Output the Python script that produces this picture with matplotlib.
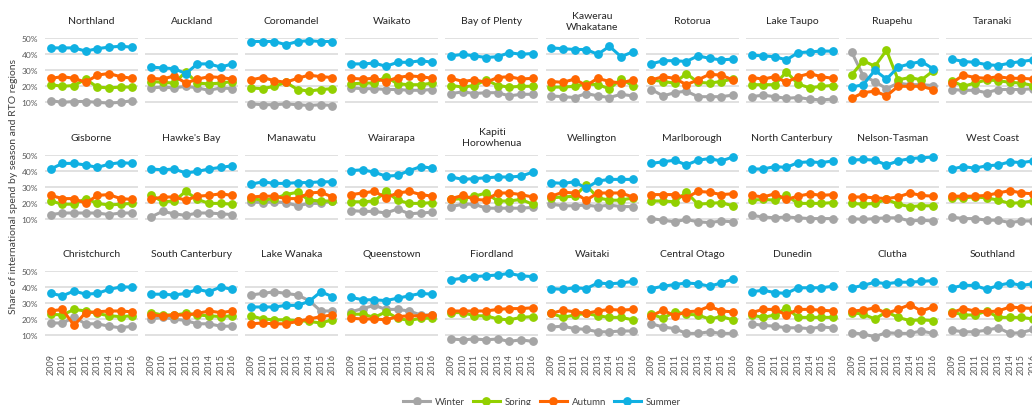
import matplotlib
matplotlib.use("Agg")
import matplotlib.pyplot as plt
from matplotlib.lines import Line2D

plt.rcParams["font.family"] = ["Lato", "DejaVu Sans"]

years = ["2009", "2010", "2011", "2012", "2013", "2014", "2015", "2016"]

regions = ["Northland", "Auckland", "Coromandel", "Waikato", "Bay of Plenty",
           "Kawerau\nWhakatane", "Rotorua", "Lake Taupo", "Ruapehu", "Taranaki",
           "Gisborne", "Hawke's Bay", "Manawatu", "Wairarapa", "Kapiti\nHorowhenua",
           "Wellington", "Marlborough", "North Canterbury", "Nelson-Tasman", "West Coast",
           "Christchurch", "South Canterbury", "Lake Wanaka", "Queenstown", "Fiordland",
           "Waitaki", "Central Otago", "Dunedin", "Clutha", "Southland"]

# share of spend (%), one row per region, one value per year
winter = [
    [11, 10, 10.5, 10.5, 10, 9.5, 10, 11],
    [19, 19.5, 19, 20, 19, 17.5, 19, 18.5],
    [9, 8.5, 8.5, 9, 8.5, 8, 8.5, 8],
    [19, 18.5, 18.5, 18, 18, 17.5, 17.5, 18],
    [15.5, 16.5, 15.5, 16, 16, 14, 15, 15],
    [14, 13.5, 13, 15.5, 14, 13, 15, 14],
    [18, 14, 16, 17, 13.5, 13.5, 13.5, 14.5],
    [13.5, 14.5, 13.5, 12.5, 13, 12, 11.5, 12],
    [41.5, 26.5, 23, 18.5, 22, 21, 21, 20.5],
    [18, 17.5, 17.5, 16, 18, 18, 18, 18.5],
    [12.5, 13.5, 13.5, 13.5, 13.5, 12.5, 13.5, 13.5],
    [11, 14.5, 13, 12, 13.5, 13.5, 13, 12.5],
    [20.5, 20, 20.5, 20, 18, 19.5, 19.5, 21],
    [15, 14.5, 14.5, 13.5, 16, 13, 13.5, 14],
    [17.5, 19, 19, 16.5, 16.5, 16.5, 16.5, 17],
    [19, 18, 18, 18.5, 17.5, 18.5, 17.5, 17.5],
    [10, 9, 8, 9.5, 8, 7.5, 8.5, 8],
    [12, 11, 10.5, 11, 10.5, 10, 10, 10],
    [10, 9.5, 10, 10.5, 10.5, 8.5, 9, 8.5],
    [11, 10, 10, 9, 9, 7.5, 8.5, 8.5],
    [17.5, 17.5, 21, 17, 17, 15.5, 14.5, 15.5],
    [20, 21, 20, 19, 17, 17, 15.5, 15.5],
    [35, 36, 37, 36, 35, 31.5, 25, 25],
    [24.5, 26.5, 28.5, 26, 26, 25, 22.5, 22.5],
    [7.5, 7, 7.5, 7, 7.5, 6, 7, 6],
    [15, 15.5, 14, 13.5, 12, 12, 12.5, 12.5],
    [17, 15, 14, 11, 11, 12, 11, 11],
    [17, 16, 15.5, 14.5, 14.5, 14, 15, 14.5],
    [11.5, 10.5, 9, 11.5, 11, 11, 12.5, 11],
    [13, 12, 12, 13, 14.5, 11, 11.5, 13.5],
]

spring = [
    [21, 20, 20.5, 24.5, 19.5, 19, 19.5, 19.5],
    [23, 22.5, 22, 29, 22, 21.5, 22, 23],
    [19, 18.5, 20, 22.5, 18, 17, 18, 18.5],
    [21.5, 22, 22, 26, 21.5, 21, 21, 22],
    [20.5, 19.5, 20.5, 24, 20.5, 19.5, 20, 20],
    [19.5, 19.5, 20, 21.5, 21, 18.5, 24.5, 20.5],
    [24, 23, 22, 28, 22.5, 22, 23, 24.5],
    [21, 21, 21, 29, 21.5, 19, 20, 20.5],
    [27, 36, 32.5, 42.5, 24, 25.5, 24, 29.5],
    [23.5, 20, 22, 24, 23.5, 22.5, 22, 20.5],
    [21, 19, 19, 22.5, 19.5, 18.5, 19, 19.5],
    [25, 20.5, 21, 27, 22, 19.5, 19.5, 19],
    [22.5, 21.5, 22.5, 25, 26.5, 21.5, 21, 21],
    [20.5, 20.5, 21, 27, 21.5, 19.5, 19.5, 20],
    [22, 22.5, 24, 26, 21, 21, 22, 19],
    [23, 23.5, 24, 31, 23, 21.5, 21.5, 23],
    [21, 21, 20.5, 26.5, 19, 19.5, 20, 18],
    [21.5, 22, 21.5, 24.5, 19.5, 19.5, 19.5, 20],
    [19.5, 19, 19.5, 22, 19, 17.5, 18, 18],
    [23, 23, 23.5, 23, 21.5, 19.5, 20, 21],
    [23, 22.5, 26, 25, 23.5, 22, 21.5, 22],
    [24, 22.5, 22.5, 23.5, 22.5, 22, 21.5, 22],
    [22, 20, 19.5, 19.5, 19, 18.5, 17.5, 19.5],
    [23, 23, 21, 24.5, 20.5, 19, 20.5, 20.5],
    [24, 24, 22, 22, 20, 19.5, 21, 21.5],
    [23.5, 21, 22.5, 23.5, 22, 21, 21, 19.5],
    [23, 20.5, 24.5, 23, 22.5, 20, 21.5, 19.5],
    [22.5, 21, 22.5, 27, 21, 21, 21, 21],
    [24, 23, 20, 24.5, 21, 19, 19.5, 19],
    [24.5, 22.5, 22.5, 25, 21, 21, 21, 20],
]

autumn = [
    [25, 26, 25, 22.5, 27, 28, 26, 25],
    [25, 24.5, 26.5, 22, 24.5, 26, 25.5, 24.5],
    [24, 25.5, 23.5, 22.5, 25, 27, 26, 25.5],
    [25, 24.5, 25, 23, 25.5, 26.5, 26, 25],
    [25, 23, 24, 22.5, 25.5, 26, 24.5, 25],
    [23, 22.5, 24.5, 20.5, 25, 23, 22, 24],
    [24, 26, 25, 21, 24, 27.5, 27, 24],
    [25.5, 24.5, 26, 22.5, 26, 28, 26, 25],
    [12.5, 16, 17, 14, 20, 20, 20, 18],
    [22, 27, 25.5, 25, 26, 25, 25, 24.5],
    [24.5, 22.5, 22.5, 19.5, 24.5, 25, 22.5, 22],
    [22, 23.5, 23.5, 21.5, 24, 24.5, 25.5, 24.5],
    [23.5, 24, 24, 22.5, 22.5, 26, 26.5, 23.5],
    [25, 26, 27, 23, 26, 27, 25, 24],
    [22.5, 24.5, 22, 21.5, 26, 26, 25, 23.5],
    [24, 26.5, 26, 21.5, 26, 26, 26, 23.5],
    [25, 25, 25, 23, 27, 26.5, 25, 25.5],
    [24.5, 23.5, 25.5, 22, 24, 25.5, 24.5, 25],
    [23.5, 23.5, 23, 22.5, 23.5, 26, 24.5, 24],
    [24, 24, 24, 24.5, 26, 27.5, 26, 25.5],
    [25, 26, 16, 24, 24.5, 25, 25, 24.5],
    [22.5, 22, 22.5, 22.5, 23.5, 25, 24, 25],
    [17, 17.5, 17, 17, 18.5, 20, 21.5, 22.5],
    [20.5, 20, 20, 19.5, 21.5, 22, 22, 22.5],
    [25, 25, 25, 25, 26, 26.5, 26.5, 27],
    [23.5, 25.5, 24.5, 23.5, 25, 26, 25.5, 26],
    [22, 25.5, 22, 24.5, 25, 28, 25, 24.5],
    [24, 26, 26, 22.5, 26, 26, 25.5, 25],
    [25, 25.5, 27, 23.5, 26, 29, 25, 27.5],
    [24, 26.5, 25, 24.5, 25, 27.5, 27, 26.5],
]

summer = [
    [44, 44, 44, 42, 43.5, 44.5, 45, 44.5],
    [32, 31.5, 31, 28, 34, 34, 32, 34],
    [48, 48, 48, 46, 48, 48.5, 48, 48],
    [34, 34, 34.5, 32.5, 35, 35, 36, 35],
    [39, 40, 39, 38, 38.5, 41, 40, 40.5],
    [44, 43.5, 43, 43, 40, 45, 38.5, 41.5],
    [34, 36, 36, 35.5, 39, 37.5, 36.5, 37],
    [39.5, 39, 38.5, 36.5, 41, 41.5, 42, 42],
    [19.5, 21, 30, 24.5, 32, 34, 35.5, 31],
    [37, 35.5, 35, 33.5, 33, 34.5, 35.5, 36.5],
    [41, 44.5, 44.5, 43.5, 42, 44, 45, 44.5],
    [41, 40.5, 41, 38.5, 39.5, 41, 42, 43],
    [31.5, 33, 32, 32, 32.5, 32.5, 33, 33],
    [40, 40.5, 39, 36.5, 37, 40, 42.5, 41.5],
    [36, 34.5, 35, 35.5, 36, 36, 36.5, 39],
    [32.5, 32, 33, 29, 33.5, 34.5, 34.5, 34.5],
    [44.5, 45.5, 46.5, 43.5, 46.5, 47.5, 46, 48.5],
    [41, 41, 42.5, 42, 45, 45.5, 45, 46],
    [46.5, 47, 46.5, 43.5, 46, 47.5, 48, 48.5],
    [41, 42.5, 41.5, 43, 43.5, 45.5, 45, 46],
    [36, 34.5, 37.5, 35.5, 36, 38.5, 40, 40],
    [35.5, 35.5, 35, 36, 38.5, 37, 40, 38.5],
    [27.5, 27.5, 27.5, 28.5, 28.5, 31, 37, 34],
    [33.5, 32, 32, 31.5, 33, 34.5, 36, 35.5],
    [44.5, 45.5, 46.5, 47, 47.5, 48.5, 47, 46.5],
    [39, 38.5, 39.5, 39, 42.5, 42, 42.5, 43.5],
    [39, 40.5, 41.5, 42.5, 42, 40.5, 42.5, 45],
    [37, 38, 36.5, 36, 39.5, 39.5, 39.5, 40.5],
    [39.5, 41, 43, 42, 43, 43, 43.5, 44],
    [39.5, 41, 41, 38.5, 41, 42.5, 41, 42],
]

season_names = ["Winter", "Spring", "Autumn", "Summer"]
season_data = [winter, spring, autumn, summer]
colors = ["#A5A5A5", "#92D000", "#FF6600", "#10B0E2"]

W, H = 1032, 406
fig = plt.figure(figsize=(W / 100, H / 100), dpi=100)

# layout in pixels (the last column runs past the right edge, as in the source)
x0, dx, pw = 45, 100.1, 93
y_tops = [39.3, 155.6, 272.0]
ph = 80

for i, name in enumerate(regions):
    r, c = divmod(i, 10)
    left = x0 + c * dx
    top = y_tops[r]
    ax = fig.add_axes([left / W, (H - top - ph) / H, pw / W, ph / H])
    for vals, col in zip(season_data, colors):
        ax.plot(range(8), vals[i], color=col, lw=2.2, marker="o", ms=5.3,
                clip_on=False, zorder=3)
    ax.set_xlim(-0.5, 7.5)
    ax.set_ylim(0, 50)
    ax.set_yticks([10, 20, 30, 40, 50])
    ax.yaxis.grid(True, color="#D9D9D9", lw=1.1, zorder=0)
    ax.set_axisbelow(True)
    for s in ax.spines.values():
        s.set_visible(False)
    ax.tick_params(length=0, labelsize=6, labelcolor="#595959", pad=5)
    if c == 0:
        ax.set_yticklabels([f"{v}%" for v in [10, 20, 30, 40, 50]])
    else:
        ax.set_yticklabels([])
    ax.set_xticks(range(8))
    if r == 2:
        ax.set_xticklabels(years, rotation=90, fontsize=6.5, color="#595959")
        ax.tick_params(axis="x", pad=1.5)
    else:
        ax.set_xticklabels([])
    ax.text(0.5, 1 + 17.5 / ph, name, transform=ax.transAxes, ha="center",
            va="center", fontsize=7.5, color="#262626", linespacing=1.3)

fig.text(14 / W, (H - 187) / H, "Share of international spend by season and RTO regions",
         rotation=90, ha="center", va="center", fontsize=7.5, color="#404040")

handles = [Line2D([], [], color=col, lw=2.2, marker="o", ms=5.3) for col in colors]
fig.legend(handles, season_names, loc="center", bbox_to_anchor=(542 / W, 3.5 / H),
           ncol=4, frameon=False, fontsize=7, handlelength=2.8, handletextpad=0.5,
           columnspacing=0.8, labelcolor="#404040")

fig.savefig("out.png", dpi=100)
